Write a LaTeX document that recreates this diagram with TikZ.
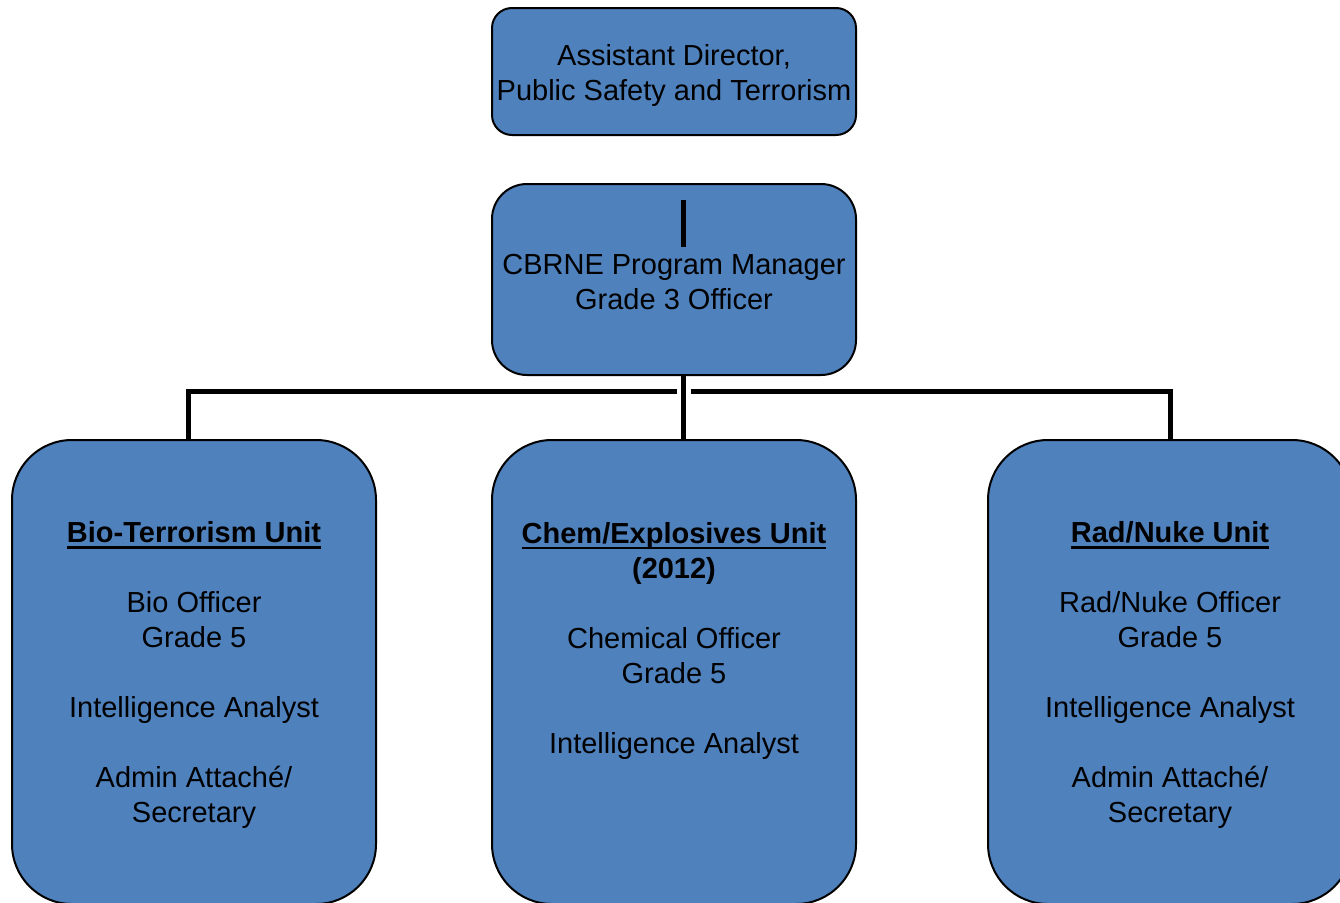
\documentclass[tikz,border=0pt]{standalone}
\usepackage{fontspec}
\setmainfont{Liberation Sans}
\definecolor{boxblue}{HTML}{4F81BD}
\newcommand{\myul}[1]{\setbox0\hbox{#1}\rlap{\rule[-6.3pt]{\wd0}{2.8pt}}\box0}
\begin{document}
\begin{tikzpicture}[x=1pt,y=-1pt,
  orgbox/.style={draw=black, line width=2pt, fill=boxblue,
    minimum width=364pt, inner sep=0pt},
  boxtxt/.style={align=center, inner sep=0pt, text=black,
    font=\fontsize{29}{35}\selectfont},
  conn/.style={draw=black, line width=5pt}]
\useasboundingbox (0,0) rectangle (1340,902);
\clip (0,0) rectangle (1340,902);
\node[orgbox, minimum height=127pt, rounded corners=20pt] (ad) at (674,71.5) {};
\node[orgbox, minimum height=191pt, rounded corners=35pt] (mgr) at (674,279.5) {};
\node[orgbox, minimum height=464pt, rounded corners=60pt] (bio) at (194,672) {};
\node[orgbox, minimum height=464pt, rounded corners=60pt] (chem) at (674,672) {};
\node[orgbox, minimum height=464pt, rounded corners=60pt] (rad) at (1170,672) {};
\node[boxtxt, yshift=-4.5pt] (adt) at (ad.center)
  {Assistant Director,\\Public Safety and Terrorism};
\node[boxtxt, yshift=-2.5pt] (mgrt) at (mgr.center)
  {CBRNE Program Manager\\Grade 3 Officer};
\node[boxtxt, yshift=-3pt] (biot) at (bio.center)
  {\myul{\textbf{Bio-Terrorism Unit}}\\\mbox{}\\Bio Officer\\Grade 5\\\mbox{}\\Intelligence Analyst\\\mbox{}\\Admin Attach\'e/\\Secretary};
\node[boxtxt, yshift=-0.5pt] (chemt) at (chem.center)
  {\myul{\textbf{Chem/Explosives Unit}}\\\textbf{(2012)}\\\mbox{}\\Chemical Officer\\Grade 5\\\mbox{}\\Intelligence Analyst\\\mbox{}\\\mbox{}};
\node[boxtxt, yshift=-3pt] (radt) at (rad.center)
  {\myul{\textbf{Rad/Nuke Unit}}\\\mbox{}\\Rad/Nuke Officer\\Grade 5\\\mbox{}\\Intelligence Analyst\\\mbox{}\\Admin Attach\'e/\\Secretary};
\coordinate (jl) at (188,391.5);
\coordinate (jr) at (1170.5,391.5);
\coordinate (jm) at (683.5,391.5);
\coordinate (gapl) at (677,391.5);
\coordinate (gapr) at (691,391.5);
\coordinate (bart) at (683.5,200);
\coordinate (barb) at (683.5,247);
\draw[conn] (bio.north -| jl) -- (jl) -- (gapl);
\draw[conn] (rad.north -| jr) -- (jr) -- (gapr);
\draw[conn] (mgr.south -| jm) -- (chem.north -| jm);
\draw[conn] (bart) -- (barb);
\end{tikzpicture}
\end{document}
